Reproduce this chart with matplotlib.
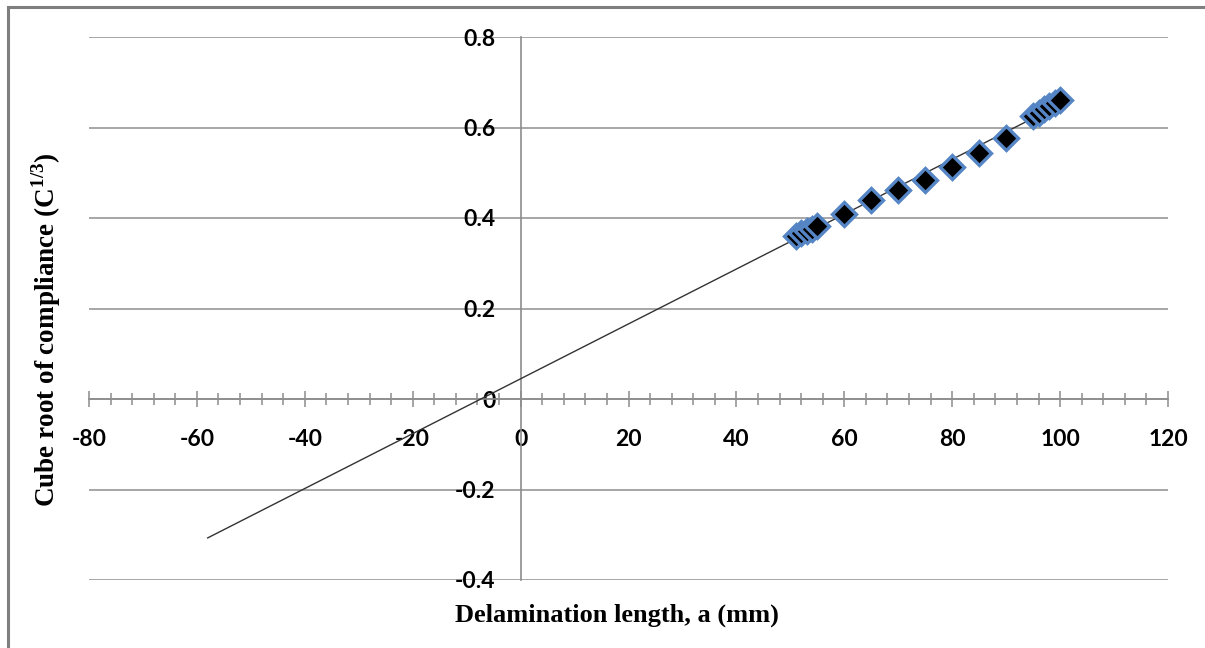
import numpy as np
import matplotlib
matplotlib.use("Agg")
import matplotlib.pyplot as plt
from matplotlib.patches import Rectangle
from matplotlib.ticker import MultipleLocator

plt.rcParams["axes.unicode_minus"] = False
plt.rcParams["mathtext.fontset"] = "custom"
plt.rcParams["mathtext.rm"] = "Liberation Serif"
plt.rcParams["mathtext.bf"] = "Liberation Serif:bold"

# Data
delam_mm = [51, 52, 53, 54, 55, 60, 65, 70, 75, 80, 85, 90, 95, 96, 97, 98, 99, 100]
cube_root_C = [0.361, 0.366, 0.371, 0.376, 0.382, 0.409, 0.439, 0.461, 0.485, 0.512,
               0.543, 0.577, 0.625, 0.633, 0.640, 0.647, 0.654, 0.660]
trend_range = [-58, 100]
x_ticks = [-80, -60, -40, -20, 0, 20, 40, 60, 80, 100, 120]
y_ticks = [-0.4, -0.2, 0, 0.2, 0.4, 0.6, 0.8]
y_tick_labels = ["-0.4", "-0.2", "0", "0.2", "0.4", "0.6", "0.8"]

W, H = 1205, 648
fig = plt.figure(figsize=(W / 100, H / 100), dpi=100)
ax = fig.add_axes([89 / W, (H - 580) / H, (1168 - 89) / W, (580 - 37) / H])

ax.set_xlim(-80, 120)
ax.set_ylim(-0.4, 0.8)

# gridlines
ax.set_yticks(y_ticks)
ax.set_yticklabels(y_tick_labels)
ax.yaxis.grid(True, color="#a6a6a6", linewidth=1.4)
ax.set_axisbelow(True)

# trend line
coef = np.polyfit(delam_mm, cube_root_C, 1)
tx = np.array(trend_range, dtype=float)
ax.plot(tx, np.polyval(coef, tx), color="#333333", linewidth=1.0, zorder=3)

# markers
ax.plot(delam_mm, cube_root_C, linestyle="none", marker="D", markersize=12.5,
        markerfacecolor="black", markeredgecolor="#5585c4", markeredgewidth=2.4, zorder=4)

# spines at zero
for s in ["top", "right"]:
    ax.spines[s].set_visible(False)
ax.spines["left"].set_position(("data", 0))
ax.spines["bottom"].set_position(("data", 0))
for s in ["left", "bottom"]:
    ax.spines[s].set_color("#8c8c8c")
    ax.spines[s].set_linewidth(1.2)

ax.set_xticks(x_ticks)
ax.xaxis.set_minor_locator(MultipleLocator(4))
ax.tick_params(axis="x", which="major", direction="inout", length=11, width=1.1,
               color="#8c8c8c", pad=16)
ax.tick_params(axis="x", which="minor", direction="inout", length=8, width=1.1,
               color="#8c8c8c")
ax.tick_params(axis="y", which="both", length=0, pad=18)

for lab in ax.get_xticklabels() + ax.get_yticklabels():
    lab.set_fontfamily("Lato")
    lab.set_fontweight("bold")
    lab.set_fontsize(16.5)
    lab.set_color("black")

# axis titles
fig.text(617 / W, 1 - 615 / H, "Delamination length, a (mm)", ha="center", va="center",
         family="Liberation Serif", fontweight="bold", fontsize=19)
fig.text(46 / W, 1 - 330 / H, r"Cube root of compliance (C$^{\mathbf{1/3}}$)", ha="center",
         va="center", rotation=90, family="Liberation Serif", fontweight="bold", fontsize=19.5)

# border of chart area
fig.add_artist(Rectangle((8 / W, -0.05), 1.2, 1.05 - 7 / H, transform=fig.transFigure,
                         fill=False, edgecolor="#7f7f7f", linewidth=2.2))

fig.savefig("out.png", dpi=100)
